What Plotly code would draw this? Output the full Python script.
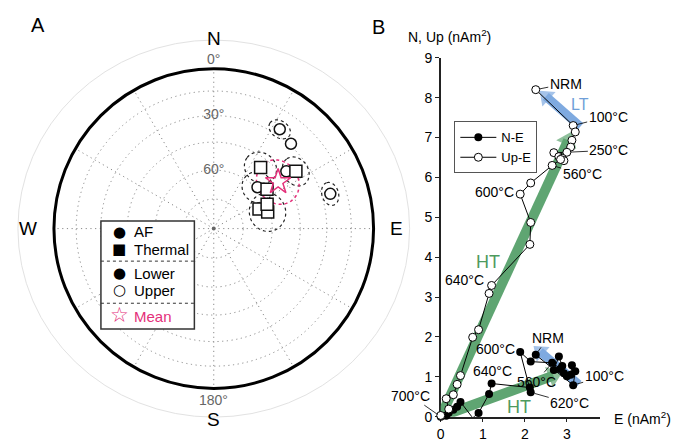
import numpy as np
import plotly.graph_objects as go

W, H = 682, 442
FONT = "Liberation Sans"

# ---------------- Panel A data: site mean directions (all upper hemisphere)
site_dec = [33.6, 42.3, 37.5, 51.7, 55.1, 46.6, 53.5, 66.6, 73.0, 65.4, 73.4]
site_inc = [-26.3, -29.0, -50.2, -41.7, -37.4, -59.1, -55.9, -64.8, -61.1, -59.9, -24.9]
site_method = ["AF", "AF", "Thermal", "AF", "Thermal", "AF", "Thermal",
               "Thermal", "Thermal", "Thermal", "AF"]
site_a95 = [5.0, 0, 8.0, 0, 7.0, 7.8, 0, 0, 9.5, 0, 5.0]
mean_dec, mean_inc, mean_a95 = 54.0, -48.8, 11.0
net_inc_circles = [15, 30, 45, 60, 75]
net_inc_labels = [30, 60]

# ---------------- Panel B data: orthogonal vector diagram (nAm^2)
demag_E = [2.26, 3.15, 3.20, 3.12, 3.09, 3.00, 2.69, 2.81, 2.89, 2.93, 2.85, 2.65, 2.14,
           1.89, 2.14, 2.12, 1.21, 1.15, 0.90, 0.76, 0.47, 0.39, 0.30, 0.13, 0.19, 0.00]
demag_N = [1.55, 0.79, 1.14, 1.29, 1.05, 1.01, 1.17, 1.51, 1.27, 1.09, 1.20, 1.35, 1.38,
           1.62, 0.61, 0.73, 0.83, 0.57, 0.09, -0.03, 0.37, 0.25, 0.17, 0.02, 0.10, 0.00]
demag_Up = [8.20, 7.30, 7.14, 6.93, 6.76, 6.63, 6.62, 6.52, 6.48, 6.42, 6.45, 6.30, 5.86,
            5.58, 4.87, 4.32, 3.29, 3.09, 2.18, 1.99, 1.03, 0.81, 0.55, 0.45, 0.19, 0.03]
# component fits (start, end) in nAm^2
ht_upe_E, ht_upe_V = [0.0, 3.03], [0.0, 6.93]
ht_ne_E, ht_ne_V = [0.0, 2.68], [0.0, 1.03]
lt_upe_E, lt_upe_V = [3.32, 2.50], [7.27, 8.03]
lt_ne_E, lt_ne_V = [3.28, 2.36], [0.81, 1.63]


def P(x, y):
    return x / W, 1 - y / H


def eqarea(inc):
    return np.sqrt(2) * np.sin(np.radians(90 - np.abs(np.asarray(inc, float))) / 2)


def cone(d, i, a, n=90):
    d, i, a = np.radians(d), np.radians(i), np.radians(a)
    v = np.array([np.cos(i) * np.cos(d), np.cos(i) * np.sin(d), np.sin(i)])
    u = np.cross(v, [0, 0, 1.0]); u /= np.linalg.norm(u)
    w = np.cross(v, u)
    t = np.linspace(0, 2 * np.pi, n)
    pts = np.cos(a) * v[:, None] + np.sin(a) * (np.outer(u, np.cos(t)) + np.outer(w, np.sin(t)))
    dd = np.degrees(np.arctan2(pts[1], pts[0])) % 360
    ii = np.degrees(np.arcsin(np.clip(pts[2], -1, 1)))
    return eqarea(ii), dd


fig = go.Figure()

# ---- stereonet
for d, i, a in zip(site_dec, site_inc, site_a95):
    if a > 0:
        rr, tt = cone(d, i, a)
        fig.add_trace(go.Scatterpolar(r=rr, theta=tt, mode="lines", subplot="polar",
                                      line=dict(color="#222", width=1.2, dash="dot"),
                                      showlegend=False, hoverinfo="skip"))
rr, tt = cone(mean_dec, mean_inc, mean_a95)
fig.add_trace(go.Scatterpolar(r=rr, theta=tt, mode="lines", subplot="polar",
                              line=dict(color="#E4307A", width=1.5, dash="dot"),
                              showlegend=False, hoverinfo="skip"))

for meth, sym, size in [("AF", "circle", 11), ("Thermal", "square", 12)]:
    idx = [k for k, m in enumerate(site_method) if m == meth]
    fig.add_trace(go.Scatterpolar(
        r=eqarea([site_inc[k] for k in idx]), theta=[site_dec[k] for k in idx],
        mode="markers", subplot="polar", cliponaxis=False,
        marker=dict(symbol=sym, size=size, color="white", line=dict(color="#111", width=1.5)),
        showlegend=False))
fig.add_trace(go.Scatterpolar(r=eqarea([mean_inc]), theta=[mean_dec], mode="markers",
                              subplot="polar",
                              marker=dict(symbol="star-open", size=19, color="#E4307A",
                                          line=dict(width=1.5)),
                              showlegend=False))
fig.add_trace(go.Scatterpolar(r=[0], theta=[0], mode="markers", subplot="polar",
                              marker=dict(size=4, color="#666"), showlegend=False))
fig.add_trace(go.Scatterpolar(r=eqarea(net_inc_labels), theta=[0] * len(net_inc_labels),
                              mode="text", subplot="polar",
                              text=[f"{v}°" for v in net_inc_labels],
                              textfont=dict(family=FONT, size=14, color="#666"),
                              showlegend=False))

# ---- Zijderveld: component arrows
for xe, yv, col, w, hs in [(ht_upe_E, ht_upe_V, "#5FA572", 10, 19),
                           (ht_ne_E, ht_ne_V, "#5FA572", 10, 19),
                           (lt_upe_E, lt_upe_V, "#7FAAE0", 9, 17),
                           (lt_ne_E, lt_ne_V, "#7FAAE0", 9, 17)]:
    fig.add_trace(go.Scatter(x=xe, y=yv, mode="lines+markers", cliponaxis=False,
                             line=dict(color=col, width=w),
                             marker=dict(symbol="triangle-up", size=[0, hs], color=col,
                                         angleref="previous", line=dict(width=0)),
                             showlegend=False, hoverinfo="skip"))

fig.add_trace(go.Scatter(x=demag_E, y=demag_N, mode="lines+markers", name="N-E",
                         cliponaxis=False, line=dict(color="black", width=1),
                         marker=dict(size=8, color="black")))
fig.add_trace(go.Scatter(x=demag_E, y=demag_Up, mode="lines+markers", name="Up-E",
                         cliponaxis=False, line=dict(color="black", width=1),
                         marker=dict(size=8, color="white", line=dict(color="black", width=1))))

annotations = []
# step labels: (text, series, index, ax, ay, leader)
step_labels = [("NRM", demag_Up, 0, 30, -6, True), ("100°C", demag_Up, 1, 35, -9, True),
               ("250°C", demag_Up, 5, 42, -2, True), ("560°C", demag_Up, 11, 30, 9, True),
               ("600°C", demag_Up, 13, -26, -2, False), ("640°C", demag_Up, 16, -27, -5, False),
               ("NRM", demag_N, 0, 12, -17, True), ("600°C", demag_N, 13, -25, -3, False),
               ("640°C", demag_N, 16, 1, -13, False), ("560°C", demag_N, 11, -16, 19, True),
               ("100°C", demag_N, 1, 31, -9, True), ("620°C", demag_N, 14, 39, 11, True),
               ("700°C", demag_N, 25, -30, -21, True)]
for txt, ser, k, ax, ay, lead in step_labels:
    annotations.append(dict(x=demag_E[k], y=ser[k], xref="x", yref="y", text=txt,
                            showarrow=True, ax=ax, ay=ay, arrowhead=0, arrowwidth=0.8,
                            arrowcolor="black" if lead else "rgba(0,0,0,0)", standoff=4,
                            font=dict(family=FONT, size=14, color="black")))
annotations += [
    dict(x=1.12, y=3.88, xref="x", yref="y", text="HT", showarrow=False,
         font=dict(family=FONT, size=18, color="#4E9A5E")),
    dict(x=1.87, y=0.25, xref="x", yref="y", text="HT", showarrow=False,
         font=dict(family=FONT, size=18, color="#4E9A5E")),
    dict(x=3.31, y=7.84, xref="x", yref="y", text="LT", showarrow=False,
         font=dict(family=FONT, size=16, color="#6F9FD8")),
]

# text in paper coordinates
def ptext(x, y, txt, size, color="black", xanchor="center", family=FONT):
    px, py = P(x, y)
    annotations.append(dict(x=px, y=py, xref="paper", yref="paper", text=txt, showarrow=False,
                            xanchor=xanchor, yanchor="middle",
                            font=dict(family=family, size=size, color=color)))

ptext(34, 18, "A", 20)
ptext(377, 20, "B", 20)
ptext(211, 32, "N", 19)
ptext(211, 430, "S", 19)
ptext(24, 230, "W", 19)
ptext(395, 230, "E", 19)
ptext(211, 53, "0°", 14, "#666")
ptext(211, 410, "180°", 14, "#666")
ptext(448, 29, "N, Up (nAm<sup>2</sup>)", 14)
ptext(642, 428, "E (nAm<sup>2</sup>)", 14)

# legend A
ptext(116, 234, "●", 15, family="DejaVu Sans")
ptext(116, 252, "■", 15, family="DejaVu Sans")
ptext(116, 277, "●", 15, family="DejaVu Sans")
ptext(116, 295, "○", 15, family="DejaVu Sans")
ptext(116, 321, "☆", 21, "#E4307A", family="DejaVu Sans")
ptext(129, 234, "AF", 15, xanchor="left")
ptext(129, 252, "Thermal", 15, xanchor="left")
ptext(129, 277, "Lower", 15, xanchor="left")
ptext(129, 295, "Upper", 15, xanchor="left")
ptext(129, 322, "Mean", 15, "#E4307A", xanchor="left")

shapes = []
cx, cy = 211, 230.5
x0, y0 = P(cx - 197, cy + 197)
x1, y1 = P(cx + 197, cy - 197)
shapes.append(dict(type="circle", xref="paper", yref="paper", x0=x0, y0=y0, x1=x1, y1=y1,
                   line=dict(color="#e2e2e2", width=1), layer="below"))
lx0, ly0 = P(97.5, 335.5)
lx1, ly1 = P(191.5, 222.5)
shapes.append(dict(type="rect", xref="paper", yref="paper", x0=lx0, y0=ly0, x1=lx1, y1=ly1,
                   line=dict(color="#333", width=1.5), fillcolor="white", layer="above"))
for yy in (264.5, 308.5):
    _, py = P(0, yy)
    shapes.append(dict(type="line", xref="paper", yref="paper", x0=lx0, x1=lx1, y0=py, y1=py,
                       line=dict(color="#333", width=1, dash="dot"), layer="above"))

pd0 = P(cx - 167, cy + 167)
pd1 = P(cx + 167, cy - 167)

fig.update_layout(
    width=W, height=H, margin=dict(l=0, r=0, t=0, b=0),
    paper_bgcolor="white", plot_bgcolor="white",
    font=dict(family=FONT, size=14, color="black"),
    polar=dict(
        domain=dict(x=[pd0[0], pd1[0]], y=[pd0[1], pd1[1]]),
        bgcolor="rgba(0,0,0,0)",
        radialaxis=dict(range=[0, 1], tickvals=list(eqarea(net_inc_circles)),
                        showticklabels=False, ticks="", showline=False,
                        gridcolor="#8a8a8a", griddash="1.2px,3.5px", gridwidth=1.2),
        angularaxis=dict(direction="clockwise", rotation=90, dtick=30,
                         showticklabels=False, ticks="", linecolor="black", linewidth=3,
                         gridcolor="#8a8a8a", griddash="1.2px,3.5px", gridwidth=1.2),
    ),
    xaxis=dict(domain=[439.3 / W, 599.6 / W], range=[0, 3.79], tickvals=[0, 1, 2, 3],
               showline=True, linecolor="#222", linewidth=1.5, ticks="outside", ticklen=4,
               tickcolor="#222", showgrid=False, zeroline=False, anchor="y",
               tickfont=dict(size=14), layer="below traces"),
    yaxis=dict(domain=[1 - 427 / H, 1 - 52 / H], range=[0, 9], dtick=1,
               showline=True, linecolor="#222", linewidth=1.5, ticks="outside", ticklen=4,
               tickcolor="#222", showgrid=False, zeroline=False, anchor="x",
               tickfont=dict(size=14), layer="below traces"),
    showlegend=True,
    legend=dict(x=453 / W, y=1 - 118.5 / H, xanchor="left", yanchor="top",
                bordercolor="#555", borderwidth=1, bgcolor="white",
                font=dict(family=FONT, size=13), tracegroupgap=0, itemwidth=36),
    annotations=annotations, shapes=shapes,
)

fig.write_html("out.html")
